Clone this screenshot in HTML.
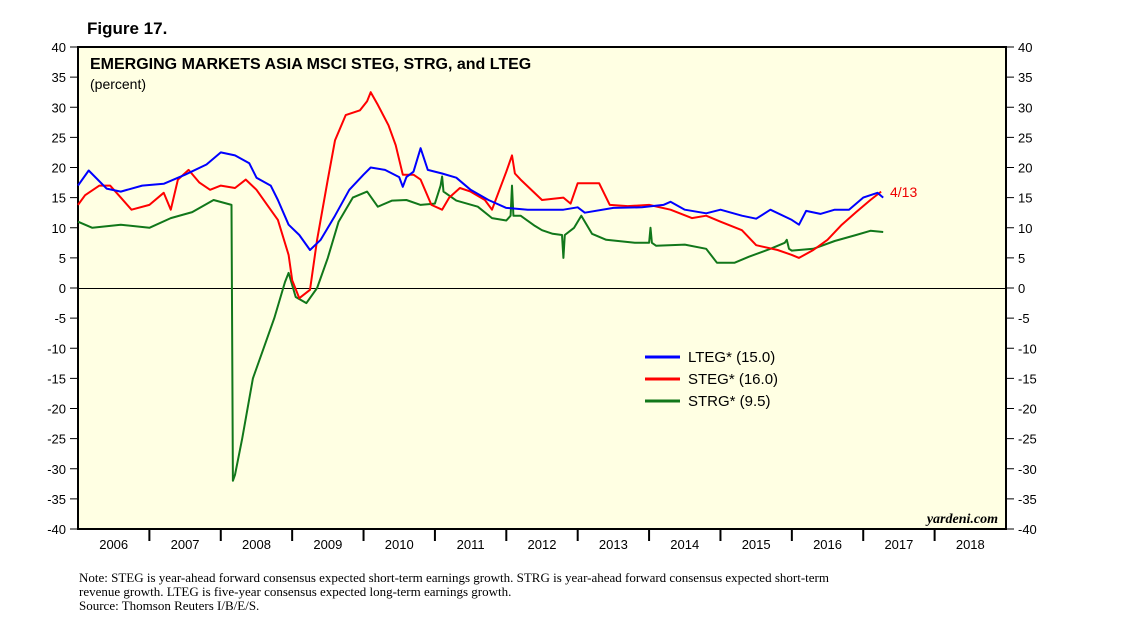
<!DOCTYPE html>
<html><head><meta charset="utf-8"><style>
body{margin:0;background:#fff;}
svg text{font-family:"Liberation Sans",sans-serif;}
</style></head><body>
<svg width="1138" height="628" xmlns="http://www.w3.org/2000/svg">
<text x="87" y="34" font-size="17" font-weight="bold">Figure 17.</text>
<rect x="78" y="47" width="928" height="482" fill="#ffffe3" stroke="#000" stroke-width="2"/>
<g id="axes"></g>
<g id="series"></g>
<text x="90" y="69" font-size="16" font-weight="bold">EMERGING MARKETS ASIA MSCI STEG, STRG, and LTEG</text>
<text x="90" y="89" font-size="14">(percent)</text>
<text x="890" y="197" font-size="14" fill="#e00">4/13</text>
<text x="998" y="523" font-size="14" font-style="italic" font-weight="bold" text-anchor="end" style="font-family:'Liberation Serif',serif">yardeni.com</text>
<g>
<line x1="645" y1="357" x2="680" y2="357" stroke="#00f" stroke-width="3"/>
<text x="688" y="362" font-size="15">LTEG* (15.0)</text>
<line x1="645" y1="379" x2="680" y2="379" stroke="#f00" stroke-width="3"/>
<text x="688" y="384" font-size="15">STEG* (16.0)</text>
<line x1="645" y1="401" x2="680" y2="401" stroke="#11771a" stroke-width="3"/>
<text x="688" y="406" font-size="15">STRG* (9.5)</text>
</g>
<g font-size="13">
<text x="79" y="582" style="font-family:'Liberation Serif',serif">Note: STEG is year-ahead forward consensus expected short-term earnings growth. STRG is year-ahead forward consensus expected short-term</text>
<text x="79" y="596" style="font-family:'Liberation Serif',serif">revenue growth. LTEG is five-year consensus expected long-term earnings growth.</text>
<text x="79" y="610" style="font-family:'Liberation Serif',serif">Source: Thomson Reuters I/B/E/S.</text>
</g>
</svg>
<script>
const yearLabels=[2006,2007,2008,2009,2010,2011,2012,2013,2014,2015,2016,2017,2018];
const yTicks=[40,35,30,25,20,15,10,5,0,-5,-10,-15,-20,-25,-30,-35,-40];
const ltegT=[2006.0,2006.15,2006.4,2006.6,2006.9,2007.2,2007.5,2007.8,2008.0,2008.2,2008.4,2008.5,2008.7,2008.8,2008.95,2009.1,2009.25,2009.4,2009.6,2009.8,2010.0,2010.1,2010.3,2010.5,2010.55,2010.6,2010.7,2010.8,2010.9,2011.1,2011.3,2011.5,2011.75,2012.0,2012.3,2012.8,2013.0,2013.1,2013.5,2013.9,2014.2,2014.3,2014.5,2014.8,2015.0,2015.3,2015.5,2015.7,2016.0,2016.1,2016.2,2016.4,2016.6,2016.8,2017.0,2017.2,2017.28];
const ltegV=[17,19.5,16.5,16,17,17.3,18.8,20.5,22.5,22,20.7,18.3,17,14.6,10.5,8.8,6.3,8,12,16.3,18.8,20,19.6,18.4,16.8,18.4,19.3,23.2,19.6,19,18.3,16.3,14.6,13.3,13,13,13.4,12.5,13.3,13.4,13.8,14.3,13,12.4,13,12,11.5,13,11.3,10.5,12.8,12.3,13,13,15,15.8,15];
const stegT=[2006.0,2006.1,2006.3,2006.45,2006.6,2006.75,2007.0,2007.2,2007.3,2007.4,2007.55,2007.7,2007.85,2008.0,2008.2,2008.35,2008.5,2008.65,2008.8,2008.95,2009.0,2009.1,2009.25,2009.35,2009.5,2009.6,2009.75,2009.95,2010.05,2010.1,2010.2,2010.35,2010.45,2010.55,2010.7,2010.8,2010.95,2011.1,2011.2,2011.35,2011.5,2011.7,2011.8,2012.0,2012.08,2012.12,2012.2,2012.5,2012.8,2012.9,2013.0,2013.3,2013.45,2013.7,2014.0,2014.3,2014.6,2014.8,2015.0,2015.3,2015.5,2015.8,2016.0,2016.1,2016.3,2016.5,2016.7,2016.9,2017.1,2017.25];
const stegV=[13.8,15.4,17,17,15,13,13.8,15.8,13,18,19.6,17.5,16.3,17,16.6,18,16.3,13.8,11.3,5.5,1.3,-1.7,-0.3,8,18,24.5,28.7,29.5,31,32.5,30.4,27,23.7,18.8,18.8,18,13.8,13,15,16.6,16,14.6,13,19.3,22,19,18,14.6,15,14,17.4,17.4,13.8,13.6,13.8,13,11.6,12,11,9.6,7.1,6.3,5.5,5,6.3,8,10.5,12.6,14.6,16];
const strgT=[2006.0,2006.2,2006.6,2007.0,2007.3,2007.6,2007.9,2008.15,2008.17,2008.2,2008.3,2008.45,2008.6,2008.75,2008.9,2008.95,2009.05,2009.2,2009.35,2009.5,2009.65,2009.85,2010.05,2010.2,2010.4,2010.6,2010.8,2011.0,2011.08,2011.1,2011.12,2011.3,2011.6,2011.8,2012.0,2012.06,2012.08,2012.1,2012.2,2012.4,2012.5,2012.65,2012.78,2012.8,2012.82,2012.95,2013.05,2013.2,2013.4,2013.8,2014.0,2014.02,2014.04,2014.1,2014.5,2014.8,2014.95,2015.2,2015.4,2015.7,2015.9,2015.93,2015.96,2016.0,2016.3,2016.6,2016.9,2017.1,2017.28];
const strgV=[11,10,10.5,10,11.6,12.6,14.6,13.8,-32,-31,-25,-15,-10,-5,1,2.5,-1.5,-2.5,0,5,11,15,16,13.5,14.5,14.6,13.8,14,17,18.5,16,14.5,13.5,11.6,11.2,12,17,12,12,10.3,9.6,9,8.8,5,8.8,10,12,9,8,7.5,7.5,10,7.5,7,7.2,6.5,4.2,4.2,5.2,6.5,7.5,8,6.5,6.2,6.5,7.8,8.8,9.5,9.3];
const NS="http://www.w3.org/2000/svg";
const X0=78,X1=1006,Y0=47,Y1=529;
function xs(t){return X0+(t-2006)*(X1-X0)/13;}
function ys(v){return Y1-(v+40)*(Y1-Y0)/80;}
const ax=document.getElementById('axes');
function mk(tag,attrs,parent){const e=document.createElementNS(NS,tag);for(const k in attrs)e.setAttribute(k,attrs[k]);parent.appendChild(e);return e;}
yTicks.forEach(v=>{
  const y=ys(v);
  const tl=mk('line',{x1:X0-8,y1:y,x2:X0,y2:y,stroke:'#000'},ax);
  
  
  const tr=mk('line',{x1:X1,y1:y,x2:X1+8,y2:y,stroke:'#000'},ax);
  
  
  const a=mk('text',{x:X0-12,y:y+5,'font-size':13,'text-anchor':'end'},ax);a.textContent=v;
  
  
  const b=mk('text',{x:X1+12,y:y+5,'font-size':13},ax);b.textContent=v;
  
  
});
const zy=Math.round(ys(0))+0.5;
const zl=mk('line',{x1:X0,y1:zy,x2:X1,y2:zy,stroke:'#000','stroke-width':1},ax);


yearLabels.forEach((yr,i)=>{
  const x=xs(yr);
  if(i>0){const t=mk('line',{x1:x,y1:Y1,x2:x,y2:Y1+12,stroke:'#000','stroke-width':2},ax);
  
  }
  const l=mk('text',{x:x+(X1-X0)/26,y:Y1+20,'font-size':13,'text-anchor':'middle'},ax);l.textContent=yr;
  
  
});
const sg=document.getElementById('series');
function line(T,V,col,name){
  const p=mk('path',{d:T.map((t,i)=>(i?'L':'M')+xs(t).toFixed(1)+','+ys(V[i]).toFixed(1)).join(''),fill:'none',stroke:col,'stroke-width':2,'stroke-linejoin':'round'},sg);
  
  
}
line(strgT,strgV,'#11771a','strg-line');
line(stegT,stegV,'#f00','steg-line');
line(ltegT,ltegV,'#00f','lteg-line');
</script>
</body></html>
